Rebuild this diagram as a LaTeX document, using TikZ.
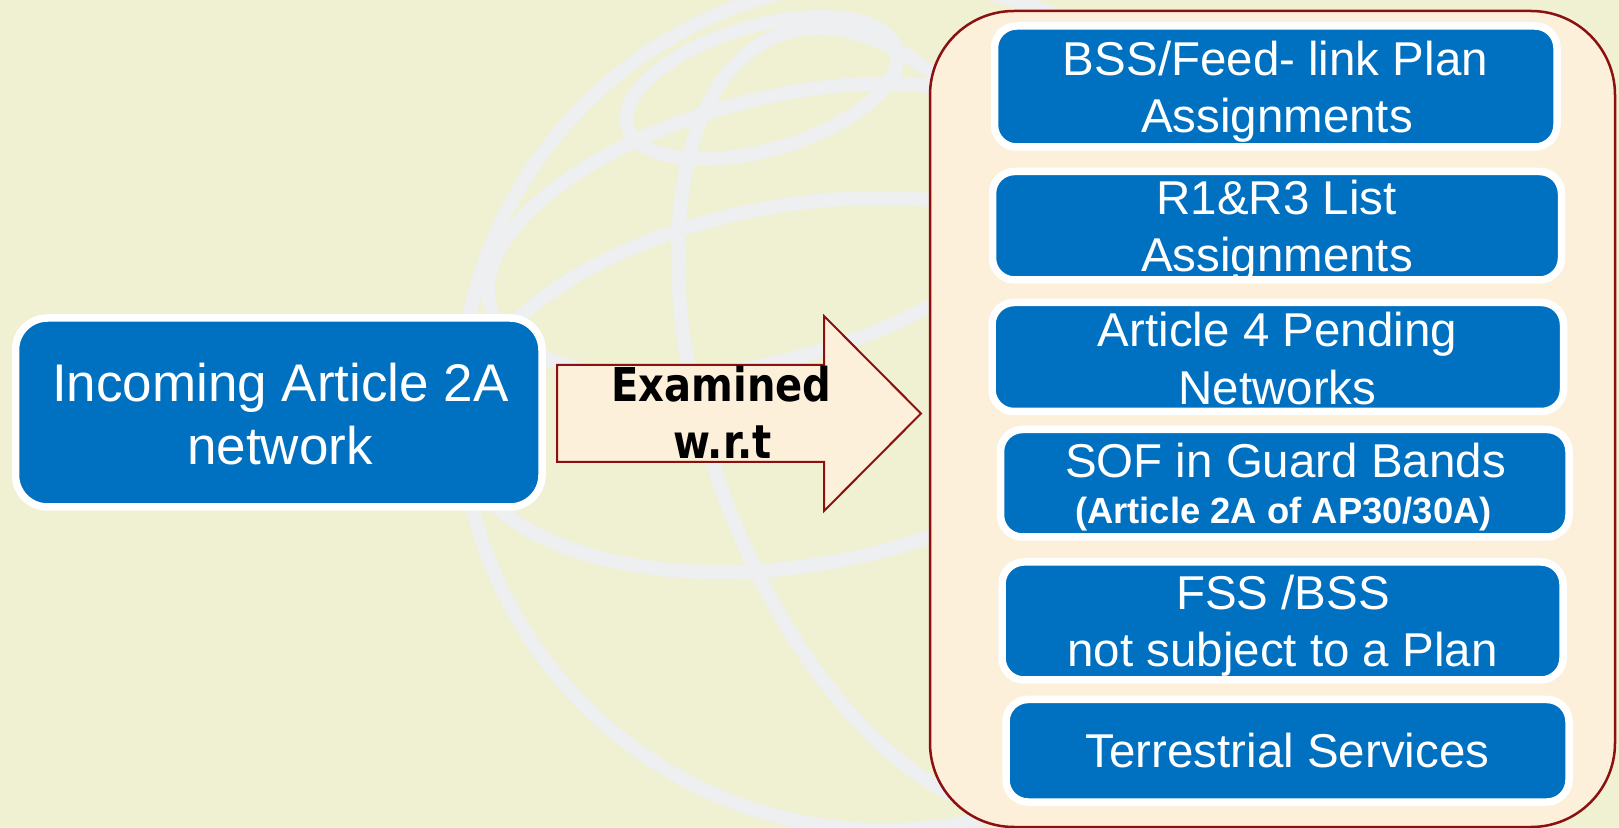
\documentclass[tikz,border=0pt]{standalone}
\usepackage{fontspec}
\setmainfont{Liberation Sans}
\newfontfamily\exfont{DejaVu Sans}[FakeStretch=0.86]
\usetikzlibrary{shadows}
\definecolor{bgc}{RGB}{240,240,211}
\definecolor{globec}{RGB}{237,239,240}
\definecolor{boxblue}{RGB}{0,112,192}
\definecolor{creamc}{RGB}{252,240,218}
\definecolor{maroonc}{RGB}{140,16,16}
\begin{document}
\begin{tikzpicture}[x=0.5pt,y=-0.5pt,
  globe/.style={draw=globec, line width=7pt},
  bluebox/.style={draw=white, line width=3.75pt, fill=boxblue, rounded corners=11pt,
     inner sep=0pt, drop shadow={opacity=0.28, shadow xshift=1pt, shadow yshift=-1.5pt}},
  txt/.style={text=white, font=\fontsize{23.75pt}{28pt}\selectfont, anchor=base, inner sep=0pt},
  bigtxt/.style={text=white, font=\fontsize{26.5pt}{30pt}\selectfont, anchor=base, inner sep=0pt},
  boldtxt/.style={text=white, font=\fontsize{18.2pt}{21pt}\selectfont\bfseries, anchor=base, inner sep=0pt},
  extxt/.style={text=black, font=\exfont\fontsize{23.3pt}{27pt}\selectfont\bfseries, anchor=base, inner sep=0pt},
  contbox/.style={draw=maroonc, line width=1.25pt, fill=creamc, rounded corners=42pt, inner sep=0pt},
  arrowbody/.style={draw=maroonc, line width=1pt, fill=creamc, line join=miter}]
% background
\fill[bgc] (0,0) rectangle (1619,828);
\path[use as bounding box] (0,0) rectangle (1619,828);
% globe watermark
\begin{scope}
  \clip (0,0) rectangle (1619,828);
  \draw[globe] (885,405) circle[radius=425];
  \begin{scope}
    \clip (885,405) circle[radius=425];
    \draw[globe, rotate around={16:(762,88)}] (762,88) ellipse[x radius=140, y radius=62];
    \draw[globe, rotate around={10:(800,385)}] (800,385) ellipse[x radius=345, y radius=180];
    \draw[globe, rotate around={15:(770,230)}] (770,230) ellipse[x radius=290, y radius=130];
    \draw[globe, rotate around={20:(920,420)}] (920,420) ellipse[x radius=210, y radius=410];
  \end{scope}
\end{scope}
% container
\node[contbox, minimum width=342.5pt, minimum height=408pt] (cont) at (1272.5,419) {};
% left box
\node[bluebox, rounded corners=16pt, minimum width=263.25pt, minimum height=94.5pt] (inc) at (278.75,412.5) {};
\node[bigtxt] (inc1) at (280.5,402) {Incoming Article 2A};
\node[bigtxt] (inc2) at (280,465) {network};
% block arrow
\coordinate (atail) at (557,413.5);
\coordinate (atip) at (921,413.5);
\draw[arrowbody] (557,365) -- (824,365) -- (824,316) -- (atip) -- (824,511) -- (824,462) -- (557,462) -- cycle;
\node[extxt] (ex1) at (721.5,402) {Examined};
\node[extxt] (ex2) at (722.5,459) {w.r.t};
% right boxes
\node[bluebox, minimum width=281.25pt, minimum height=60.5pt] (b1) at (1275.75,86.5) {};
\node[txt] (b1a) at (1275.5,76) {BSS/Feed- link Plan};
\node[txt] (b1b) at (1277,133) {Assignments};
\node[bluebox, minimum width=284.5pt, minimum height=54.25pt] (b2) at (1277,225.75) {};
\node[txt] (b2a) at (1276.5,215) {R1\&R3 List};
\node[txt] (b2b) at (1277,272) {Assignments};
\node[bluebox, minimum width=285.75pt, minimum height=54.5pt] (b3) at (1277.75,357) {};
\node[txt] (b3a) at (1277.5,347) {Article 4 Pending};
\node[txt] (b3b) at (1277.5,405) {Networks};
\node[bluebox, minimum width=284.25pt, minimum height=53.75pt] (b4) at (1284.75,483.25) {};
\node[txt] (b4a) at (1285.5,478) {SOF in Guard Bands};
\node[boldtxt] (b4b) at (1283.5,524) {(Article 2A of AP30/30A)};
\node[bluebox, minimum width=280.5pt, minimum height=59pt] (b5) at (1282.5,621) {};
\node[txt] (b5a) at (1283,610) {FSS /BSS};
\node[txt] (b5b) at (1282.5,667) {not subject to a Plan};
\node[bluebox, minimum width=281.5pt, minimum height=51.25pt] (b6) at (1287.5,750.75) {};
\node[txt] (b6a) at (1287.5,768) {Terrestrial Services};
\end{tikzpicture}
\end{document}
